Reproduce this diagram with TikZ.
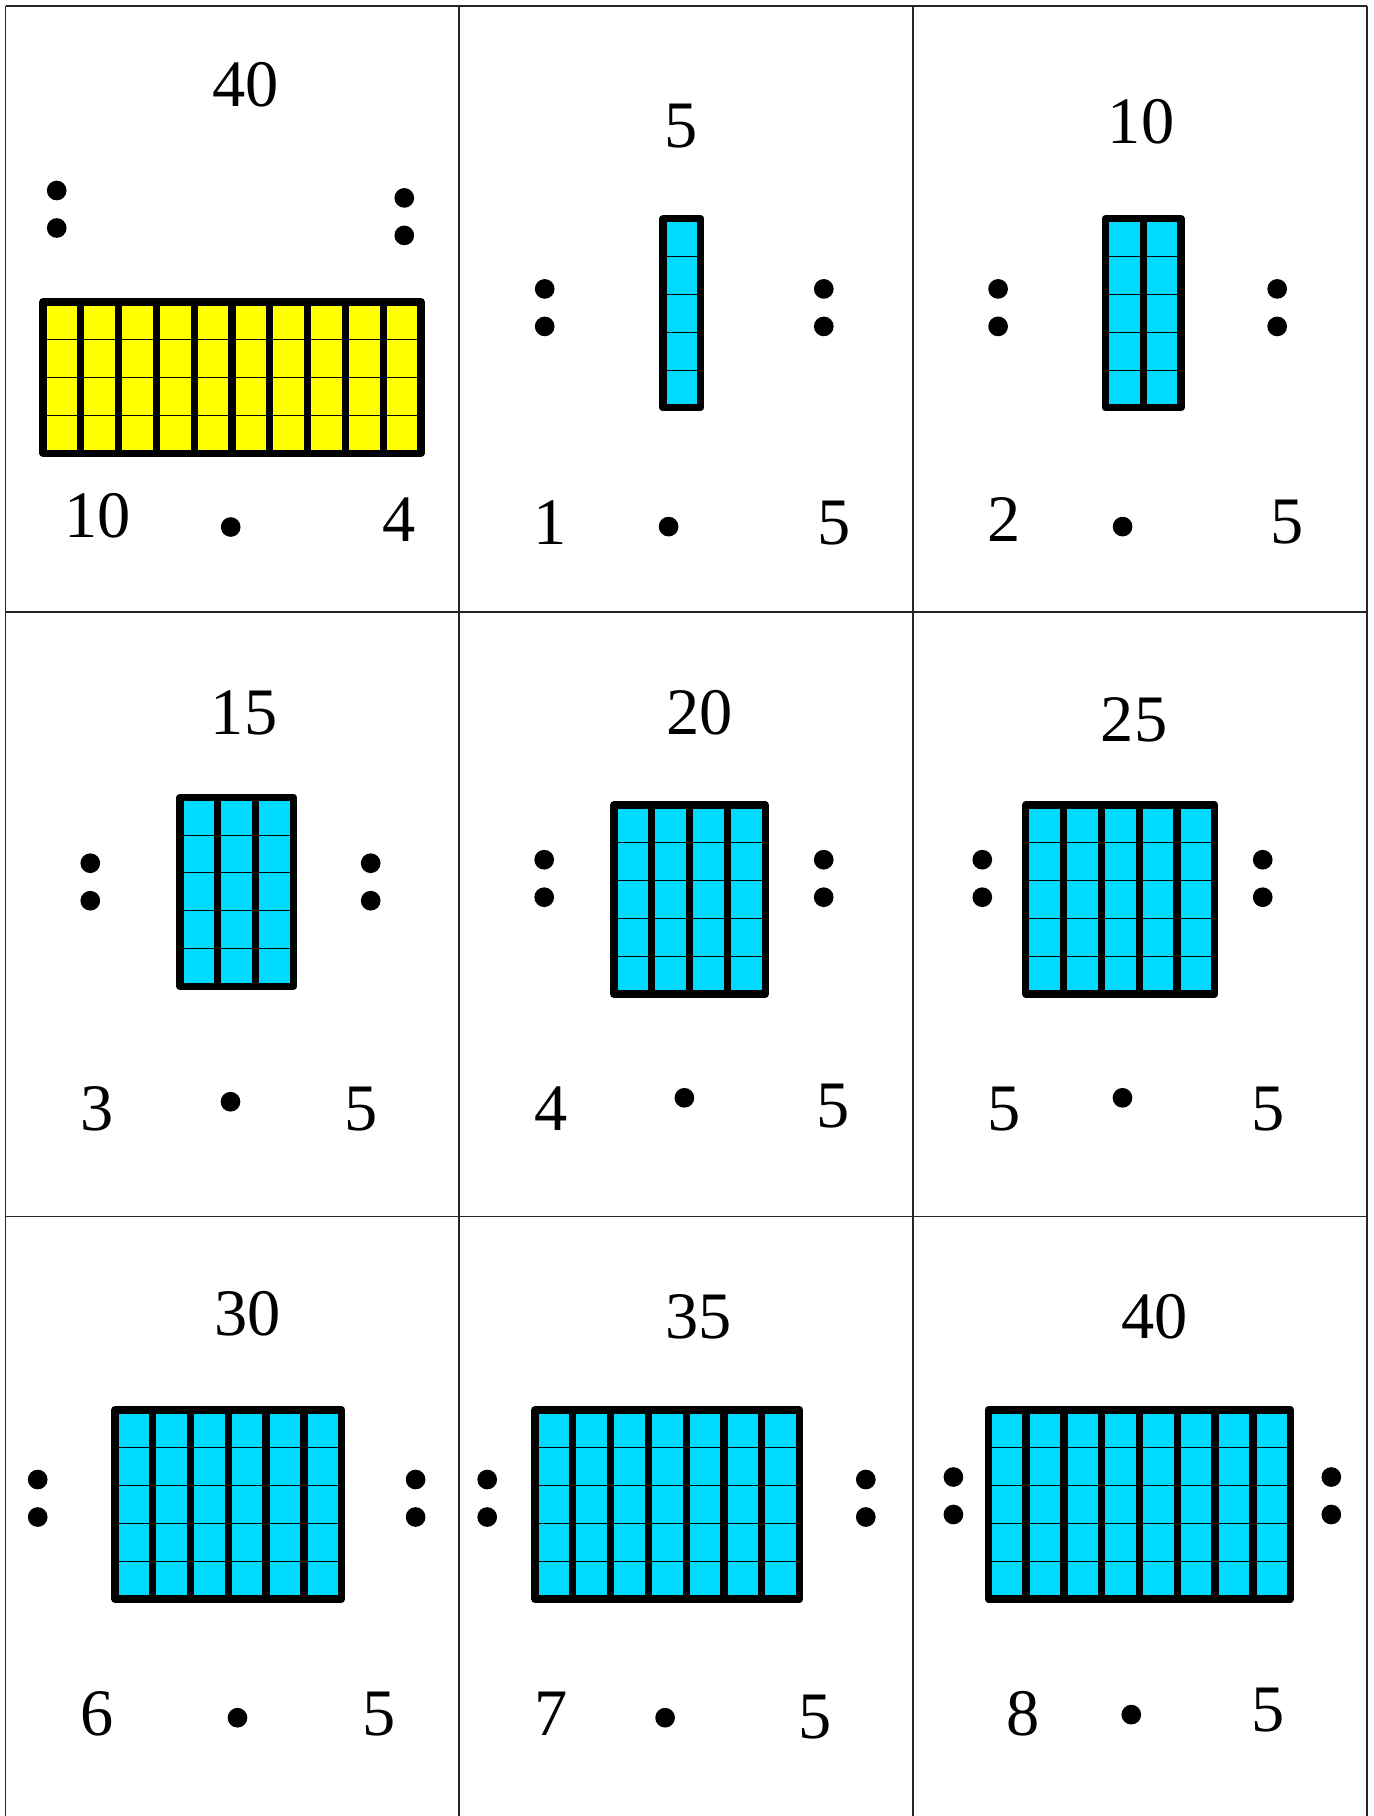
\documentclass[tikz,border=0pt]{standalone}
\usepackage{fontspec}
\setmainfont{Liberation Serif}
\definecolor{tilecyan}{HTML}{00DAFF}
\definecolor{tileyellow}{HTML}{FFFF00}
\tikzset{
  num/.style={anchor=base, inner sep=0pt, font=\fontsize{33.2}{40}\selectfont},
  dotc/.style={circle, fill=black, draw=none, minimum size=9.85pt, inner sep=0pt},
  cellline/.style={line width=0.65pt, draw=black!85},
  thinline/.style={line width=0.5pt, draw=black},
  thickline/.style={line width=3.65pt, draw=black, line join=round},
}
\newcommand\tileblock[5]{%
  \fill[#5] (#1,#2) rectangle ({#1+#3*37.8},{#2+#4*37.8});
  \foreach \r in {1,...,#4} \draw[thinline] (#1,{#2+\r*37.8}) -- ({#1+#3*37.8},{#2+\r*37.8});
  \foreach \c in {1,...,#3} \draw[thickline] ({#1+(\c-1)*37.8},#2) rectangle ({#1+\c*37.8},{#2+#4*37.8});
}
\newcommand\colonpair[3]{%
  \node[dotc] (#1a) at (#2,#3) {};
  \node[dotc] (#1b) at (#2,{#3+37.5}) {};
}
\begin{document}
\begin{tikzpicture}[x=0.5pt,y=-0.5pt]
\useasboundingbox (0,0) rectangle (1374,1816);
\fill[white] (0,0) rectangle (1374,1816);
% cell grid
\foreach \xx in {5.5,459,913,1367} \draw[cellline] (\xx,6) -- (\xx,1830);
\foreach \yy in {6,612,1216.5} \draw[cellline] (5.5,\yy) -- (1367,\yy);

% ---------- cell 1 ----------
\tileblock{43}{302}{10}{4}{tileyellow}
\node[num] (t1) at (245.5,106) {40};
\colonpair{c1l}{56.7}{190.5}
\colonpair{c1r}{404.3}{197.9}
\node[num] (l1) at (98,537) {10};
\node[dotc] (m1) at (230.7,527) {};
\node[num] (r1) at (399,541.8) {4};

% ---------- cell 2 ----------
\tileblock{663}{218.8}{1}{5}{tilecyan}
\node[num] (t2) at (680.8,147.5) {5};
\colonpair{c2l}{544.7}{288.9}
\colonpair{c2r}{823.8}{288.9}
\node[num] (l2) at (550.5,544) {1};
\node[dotc] (m2) at (668.6,526.6) {};
\node[num] (r2) at (834,544) {5};

% ---------- cell 3 ----------
\tileblock{1105.5}{218.8}{2}{5}{tilecyan}
\node[num] (t3) at (1141,143.5) {10};
\colonpair{c3l}{998.1}{288.9}
\colonpair{c3r}{1277.2}{288.9}
\node[num] (l3) at (1004.5,541.3) {2};
\node[dotc] (m3) at (1122.6,526.6) {};
\node[num] (r3) at (1287,543.5) {5};

% ---------- cell 4 ----------
\tileblock{180}{797.3}{3}{5}{tilecyan}
\node[num] (t4) at (244,734) {15};
\colonpair{c4l}{90.3}{863.2}
\colonpair{c4r}{370.7}{863.2}
\node[num] (l4) at (97,1130) {3};
\node[dotc] (m4) at (230.5,1101.7) {};
\node[num] (r4) at (361.5,1130) {5};

% ---------- cell 5 ----------
\tileblock{614}{805}{4}{5}{tilecyan}
\node[num] (t5) at (699.7,734) {20};
\colonpair{c5l}{544.2}{859.7}
\colonpair{c5r}{823.7}{859.7}
\node[num] (l5) at (550.7,1130) {4};
\node[dotc] (m5) at (684.4,1097.8) {};
\node[num] (r5) at (833.4,1127) {5};

% ---------- cell 6 ----------
\tileblock{1025.8}{805}{5}{5}{tilecyan}
\node[num] (t6) at (1134,741) {25};
\colonpair{c6l}{982.3}{859.7}
\colonpair{c6r}{1262.7}{859.7}
\node[num] (l6) at (1004,1130) {5};
\node[dotc] (m6) at (1122.5,1097.8) {};
\node[num] (r6) at (1268.4,1130) {5};

% ---------- cell 7 ----------
\tileblock{114.9}{1410}{6}{5}{tilecyan}
\node[num] (t7) at (247.5,1335) {30};
\colonpair{c7l}{37.7}{1479.5}
\colonpair{c7r}{415.6}{1479.5}
\node[num] (l7) at (96.8,1735) {6};
\node[dotc] (m7) at (237.5,1717.7) {};
\node[num] (r7) at (379.4,1735) {5};

% ---------- cell 8 ----------
\tileblock{535}{1410}{7}{5}{tilecyan}
\node[num] (t8) at (698.9,1338) {35};
\colonpair{c8l}{487.2}{1479.5}
\colonpair{c8r}{865.8}{1479.5}
\node[num] (l8) at (550.8,1735) {7};
\node[dotc] (m8) at (665.1,1717.7) {};
\node[num] (r8) at (815,1738.5) {5};

% ---------- cell 9 ----------
\tileblock{988.3}{1410}{8}{5}{tilecyan}
\node[num] (t9) at (1154.5,1338) {40};
\colonpair{c9l}{953.4}{1477}
\colonpair{c9r}{1331.3}{1477}
\node[num] (l9) at (1022.6,1735) {8};
\node[dotc] (m9) at (1131.3,1714.6) {};
\node[num] (r9) at (1268.4,1731) {5};
\end{tikzpicture}
\end{document}
